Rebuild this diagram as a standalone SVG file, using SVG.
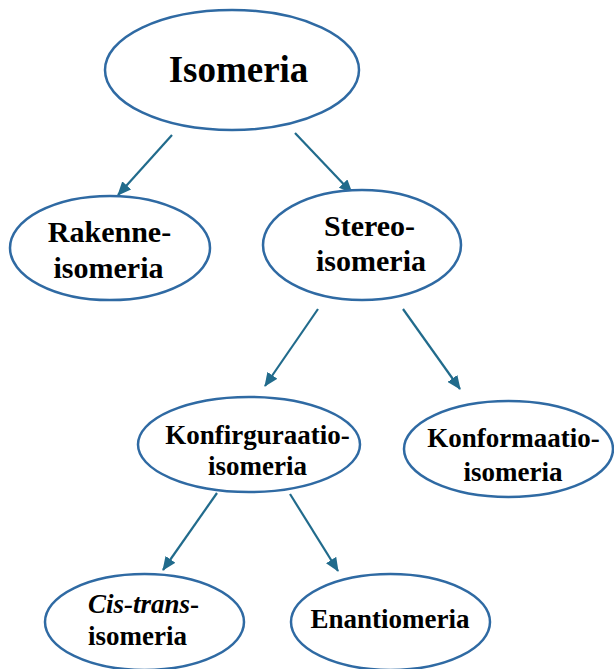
<svg xmlns="http://www.w3.org/2000/svg" width="614" height="669" viewBox="0 0 614 669">
<style>
.node ellipse{fill:#fff;stroke:#2f6aa3;stroke-width:2.5}
text{font-family:"Liberation Serif","Times New Roman",serif;font-weight:bold;fill:#000}
.c{text-anchor:middle}
.l1{font-size:37px}
.l2{font-size:30px}
.l3{font-size:27px}
.conn line{stroke:#216b8c;stroke-width:2.2;marker-end:url(#ah)}
</style>
<defs>
<marker id="ah" markerUnits="userSpaceOnUse" markerWidth="14" markerHeight="12" viewBox="0 0 14 12" refX="13" refY="6" orient="auto">
<path d="M0,0 L14,6 L0,12 Z" fill="#216b8c"/>
</marker>
</defs>
<g class="conn">
<line x1="172" y1="135" x2="118" y2="195"/>
<line x1="295" y1="133" x2="352" y2="193"/>
<line x1="318" y1="309" x2="265" y2="386"/>
<line x1="403" y1="309" x2="460" y2="389"/>
<line x1="217" y1="493" x2="163" y2="570"/>
<line x1="290" y1="494" x2="338" y2="571"/>
</g>
<g id="isomeria" class="node">
<ellipse cx="232" cy="70" rx="127" ry="60"/>
<text class="c l1" x="238.5" y="82">Isomeria</text>
</g>
<g id="rakenne" class="node">
<ellipse cx="110" cy="248" rx="100" ry="52"/>
<text class="c l2" x="109.5" y="242">Rakenne-</text>
<text class="c l2" x="108.5" y="278">isomeria</text>
</g>
<g id="stereo" class="node">
<ellipse cx="362" cy="245" rx="99" ry="55"/>
<text class="c l2" x="369.5" y="236">Stereo-</text>
<text class="c l2" x="371" y="271">isomeria</text>
</g>
<g id="konfig" class="node">
<ellipse cx="249" cy="444.5" rx="111" ry="47.5"/>
<text class="c l3" x="257.5" y="444">Konfirguraatio-</text>
<text class="c l3" x="257.5" y="475">isomeria</text>
</g>
<g id="konform" class="node">
<ellipse cx="508.5" cy="449" rx="104.5" ry="48"/>
<text class="c l3" x="513.5" y="447">Konformaatio-</text>
<text class="c l3" x="513" y="481">isomeria</text>
</g>
<g id="cistrans" class="node">
<ellipse cx="144.5" cy="622" rx="99.5" ry="48"/>
<text class="l3" x="88" y="613"><tspan font-style="italic">Cis-trans</tspan>-</text>
<text class="l3" x="88" y="645">isomeria</text>
</g>
<g id="enantio" class="node">
<ellipse cx="390.5" cy="622" rx="99.5" ry="48"/>
<text class="c l3" x="390" y="628">Enantiomeria</text>
</g>
</svg>
